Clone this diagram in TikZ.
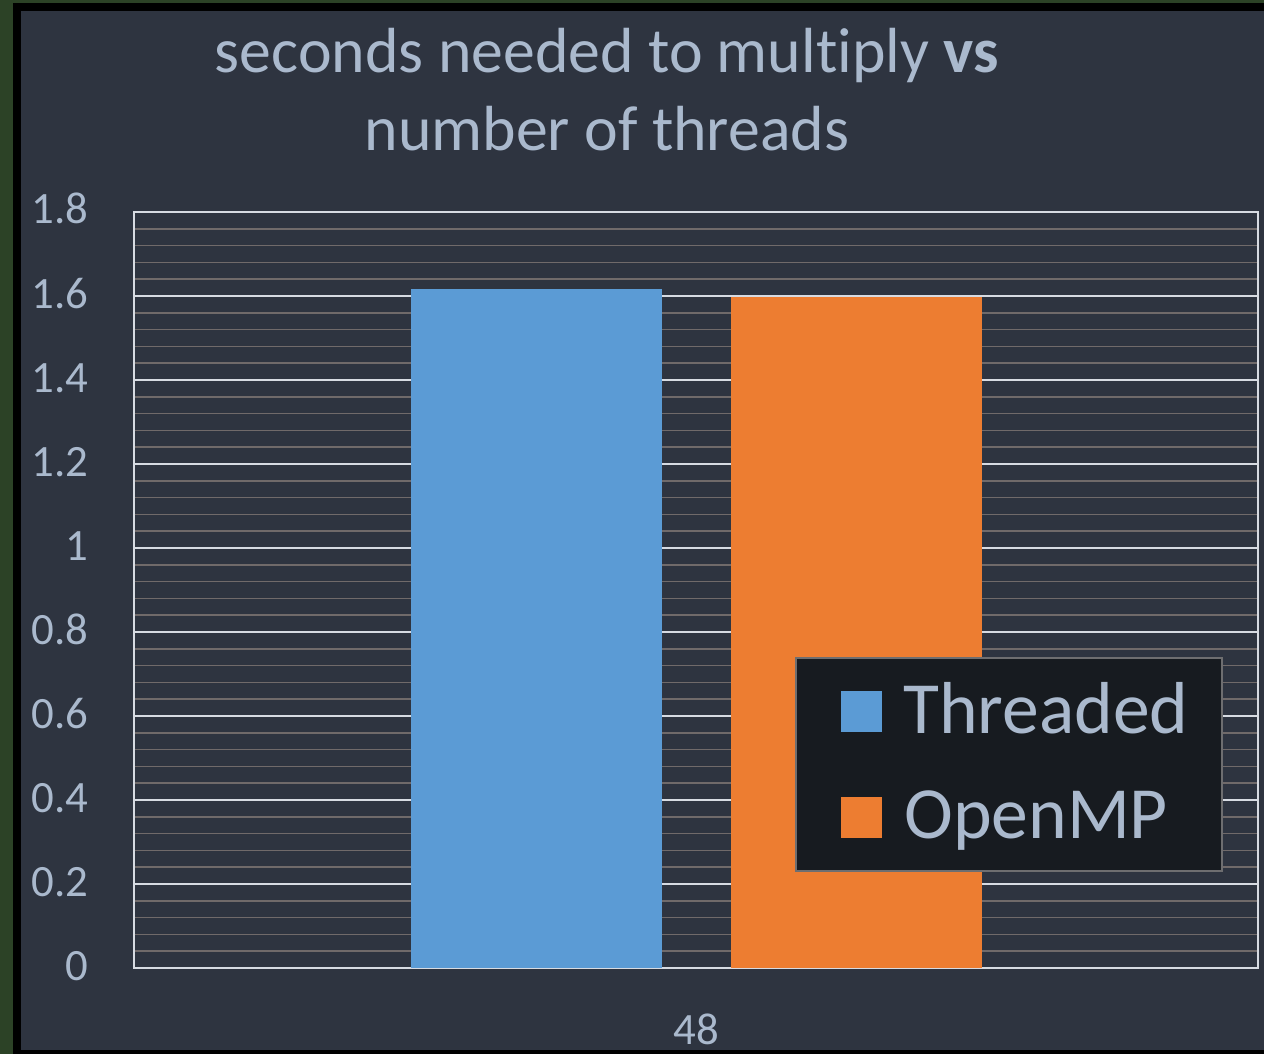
\documentclass[tikz,border=0pt]{standalone}
\usepackage{fontspec}
\setmainfont{Carlito}[Ligatures=NoCommon]
\usetikzlibrary{positioning}

\definecolor{moss}{RGB}{44,66,38}
\definecolor{panel}{RGB}{46,52,64}
\definecolor{inktext}{RGB}{170,185,205}
\definecolor{majorline}{RGB}{215,219,226}
\definecolor{minorline}{RGB}{112,106,106}
\definecolor{legendbg}{RGB}{23,27,32}
\definecolor{legendedge}{RGB}{110,110,112}
\definecolor{threadblue}{RGB}{91,155,213}
\definecolor{omporange}{RGB}{237,125,49}

\tikzset{
  ticklabel/.style={text=inktext,font=\fontsize{25.5}{28}\selectfont,inner sep=0pt},
  keylabel/.style={text=inktext,font=\fontsize{41.9}{46}\selectfont,inner sep=0pt,anchor=base west},
  minorgrid/.style={draw=minorline,line width=1pt},
  majorgrid/.style={draw=majorline,line width=1.3pt}
}

\begin{document}
\begin{tikzpicture}[x=0.02cm,y=-0.02cm]
  \useasboundingbox (0,0) rectangle (1264,1054);
  % slide backdrop and frame
  \fill[moss] (0,0) rectangle (1264,1054);
  \fill[black] (13,3) rectangle (1264,1054);
  \fill[panel] (21,11) rectangle (1264,1050);
  % title
  \node[anchor=base,text=inktext,font=\fontsize{36.3}{40}\selectfont,inner sep=0pt] (title1) at (607,73) {seconds needed to multiply \textbf{vs}};
  \node[anchor=base,text=inktext,font=\fontsize{36.3}{40}\selectfont,inner sep=0pt] (title2) at (607,151) {number of threads};
  % grid: 16.8 px per 0.04
  \foreach \k in {1,...,44}
    \draw[minorgrid] (134,{968-16.8*\k}) -- (1258,{968-16.8*\k});
  \foreach \v/\lab in {0/0,1/0.2,2/0.4,3/0.6,4/0.8,5/1,6/1.2,7/1.4,8/1.6,9/1.8} {
    \draw[majorgrid] (134,{968-84*\v}) -- (1258,{968-84*\v});
    \node[ticklabel,anchor=base east] (tick\v) at (89,{980-84*\v}) {\lab};
  }
  \draw[majorgrid] (134,212) rectangle (1258,968);
  % bars
  \fill[threadblue] (411,968) rectangle (662,289);
  \fill[omporange] (731,968) rectangle (982,297);
  \node[ticklabel,anchor=base] (xlab) at (696,1044) {48};
  % legend
  \draw[legendedge,fill=legendbg,line width=1pt] (796,658) rectangle (1222,871);
  \fill[threadblue] (841,691) rectangle (882,732);
  \fill[omporange] (841,797) rectangle (882,838);
  \node[keylabel] (keyA) at (903,733) {Threaded};
  \node[keylabel] (keyB) at (904,838) {OpenMP};
\end{tikzpicture}
\end{document}
